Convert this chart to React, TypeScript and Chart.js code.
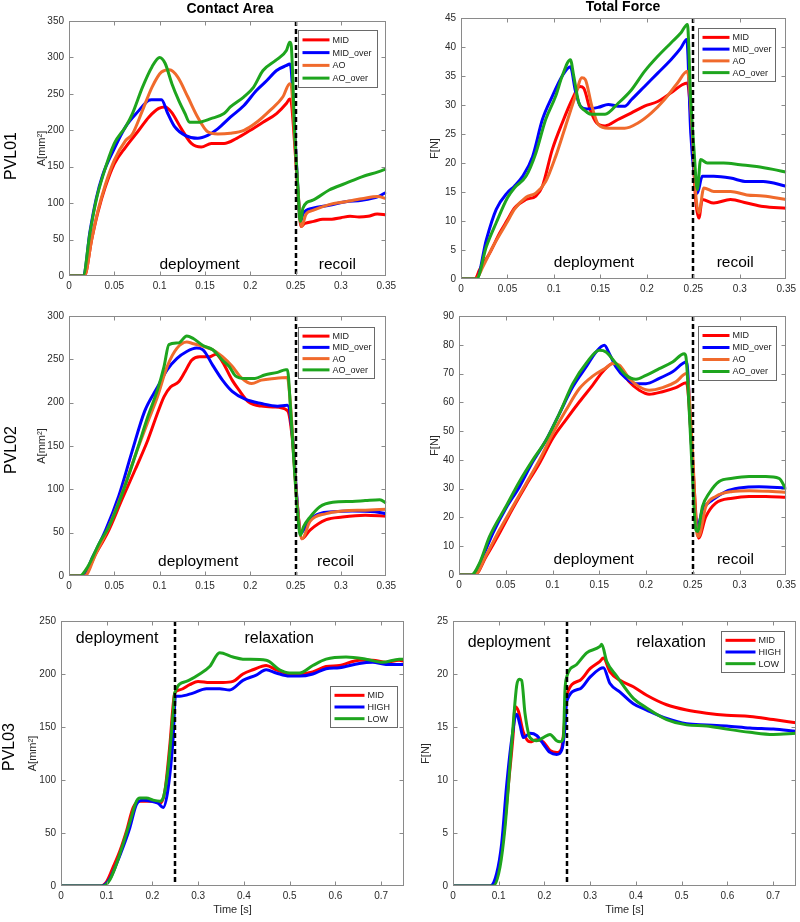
import React, { useEffect, useRef } from "react";
import { Chart, registerables } from "chart.js";

Chart.register(...registerables);

const FONT = '"Liberation Sans", Arial, Helvetica, sans-serif';
const RED = "#ff0000";
const BLUE = "#0000ff";
const ORANGE = "#f06a2c";
const GREEN = "#1ea51e";

const LABELS_4 = ["MID", "MID_over", "AO", "AO_over"];
const LABELS_3 = ["MID", "HIGH", "LOW"];
const SPLIT_T = 0.25;

const X_TICKS_A = [0, 0.05, 0.1, 0.15, 0.2, 0.25, 0.3, 0.35];
const X_TICKS_B = [0, 0.1, 0.2, 0.3, 0.4, 0.5, 0.6, 0.7];
const Y_TICKS_P1 = [0, 50, 100, 150, 200, 250, 300, 350];
const Y_TICKS_P2 = [0, 5, 10, 15, 20, 25, 30, 35, 40, 45];
const Y_TICKS_P3 = [0, 50, 100, 150, 200, 250, 300];
const Y_TICKS_P4 = [0, 10, 20, 30, 40, 50, 60, 70, 80, 90];
const Y_TICKS_P5 = [0, 50, 100, 150, 200, 250];
const Y_TICKS_P6 = [0, 5, 10, 15, 20, 25];

// ---------- PVL01 Contact Area ----------
const P1_MID_T = [0, 0.017, 0.025, 0.032, 0.04, 0.05, 0.0625, 0.077, 0.088, 0.099, 0.106, 0.113, 0.124, 0.135, 0.146, 0.157, 0.171, 0.185, 0.2, 0.214, 0.229, 0.24, 0.2435, 0.245, 0.249, 0.2525, 0.256, 0.26, 0.27, 0.28, 0.29, 0.3, 0.31, 0.32, 0.33, 0.34, 0.35];
const P1_MID_V = [0, 0, 50, 88, 122, 154, 177, 200, 218, 230, 232, 225, 202, 182, 177, 182, 182, 189, 200, 211, 223, 237, 243, 240, 180, 115, 68, 72, 75, 78, 78, 80, 82, 81, 82, 85, 84];
const P1_MIDO_T = [0, 0.016, 0.023, 0.03, 0.037, 0.05, 0.0625, 0.077, 0.0875, 0.091, 0.102, 0.109, 0.1165, 0.128, 0.142, 0.153, 0.164, 0.178, 0.193, 0.207, 0.218, 0.229, 0.24, 0.2435, 0.245, 0.249, 0.2525, 0.2555, 0.258, 0.269, 0.287, 0.305, 0.323, 0.341, 0.35];
const P1_MIDO_V = [0, 0, 60, 106, 138, 175, 205, 227, 241, 242, 242, 223, 205, 193, 189, 193, 202, 218, 234, 255, 268, 282, 289, 291, 285, 200, 120, 75, 85, 93, 97, 102, 104, 109, 115];
const P1_AO_T = [0, 0.017, 0.025, 0.032, 0.04, 0.05, 0.0625, 0.07, 0.081, 0.0915, 0.102, 0.111, 0.12, 0.131, 0.142, 0.153, 0.164, 0.178, 0.193, 0.207, 0.2215, 0.236, 0.2435, 0.245, 0.249, 0.2525, 0.2565, 0.2615, 0.269, 0.287, 0.305, 0.323, 0.341, 0.35];
const P1_AO_V = [0, 0, 50, 90, 125, 159, 186, 195, 227, 259, 280, 283, 273, 246, 218, 198, 195, 196, 200, 211, 227, 246, 264, 262, 190, 120, 68, 85, 90, 98, 102, 106, 109, 106];
const P1_AOO_T = [0, 0.0155, 0.023, 0.03, 0.037, 0.05, 0.0625, 0.07, 0.081, 0.0915, 0.1, 0.106, 0.1135, 0.121, 0.128, 0.133, 0.142, 0.1565, 0.171, 0.178, 0.193, 0.2035, 0.214, 0.228, 0.24, 0.2435, 0.245, 0.249, 0.2525, 0.255, 0.2565, 0.258, 0.269, 0.287, 0.305, 0.323, 0.341, 0.35];
const P1_AOO_V = [0, 0, 58, 104, 136, 182, 205, 223, 259, 287, 300, 292, 264, 241, 223, 211, 211, 216, 223, 232, 246, 259, 282, 296, 310, 321, 318, 195, 122, 75, 80, 93, 104, 118, 127, 136, 143, 147];

// ---------- PVL01 Total Force ----------
const P2_MID_T = [0, 0.015, 0.02, 0.031, 0.0415, 0.05, 0.0574, 0.07, 0.0805, 0.0876, 0.0982, 0.1089, 0.1195, 0.128, 0.132, 0.139, 0.146, 0.155, 0.169, 0.183, 0.1975, 0.2117, 0.226, 0.238, 0.2436, 0.2489, 0.2525, 0.256, 0.2596, 0.272, 0.29, 0.3075, 0.325, 0.35];
const P2_MID_V = [0, 0, 1.6, 4.5, 7.9, 10.2, 12.2, 13.7, 14.3, 16, 22.3, 26.9, 30.9, 33.2, 32.9, 29.2, 26.9, 26.4, 27.5, 28.6, 29.8, 30.6, 32.1, 33.5, 33.8, 24, 13.7, 10.5, 13.7, 13.1, 13.7, 13.1, 12.5, 12.2];
const P2_MIDO_T = [0, 0.0167, 0.0273, 0.0379, 0.05, 0.0574, 0.0663, 0.077, 0.0876, 0.0982, 0.1089, 0.1177, 0.123, 0.1284, 0.1355, 0.1479, 0.1585, 0.1691, 0.1762, 0.1833, 0.1975, 0.2117, 0.2259, 0.2365, 0.2429, 0.2472, 0.2507, 0.2543, 0.2596, 0.272, 0.29, 0.3075, 0.325, 0.35];
const P2_MIDO_V = [0, 0, 6.8, 12, 14.9, 16, 17.7, 21.1, 27.5, 31.5, 35, 36.6, 32.5, 29.8, 29.3, 29.6, 30.1, 29.8, 29.8, 30.9, 33.2, 35.5, 37.8, 39.8, 41.3, 25.2, 18.3, 14.8, 17.7, 17.7, 17.4, 16.8, 16.8, 16];
const P2_AO_T = [0, 0.016, 0.0238, 0.0344, 0.05, 0.0574, 0.07, 0.0805, 0.0911, 0.1018, 0.1124, 0.123, 0.1301, 0.1337, 0.1408, 0.1479, 0.1585, 0.1762, 0.1904, 0.2046, 0.2188, 0.233, 0.2436, 0.2489, 0.2525, 0.256, 0.2613, 0.272, 0.29, 0.3075, 0.325, 0.35];
const P2_AO_V = [0, 0, 2.2, 5.6, 9.9, 12, 14.1, 14.8, 16.8, 21.1, 26.3, 31.5, 34.7, 34.4, 29.8, 26.6, 26, 26, 26.9, 28.6, 30.9, 33.8, 35.8, 25.2, 14.8, 11.4, 15.7, 15.1, 15.1, 14.5, 14.3, 13.7];
const P2_AOO_T = [0, 0.0167, 0.0273, 0.0379, 0.05, 0.0574, 0.0699, 0.0805, 0.0911, 0.1018, 0.1089, 0.1177, 0.1213, 0.1266, 0.1337, 0.1408, 0.155, 0.1691, 0.1833, 0.1975, 0.2117, 0.2259, 0.2365, 0.2436, 0.2472, 0.2507, 0.2543, 0.2578, 0.2649, 0.2826, 0.3004, 0.3181, 0.3358, 0.35];
const P2_AOO_V = [0, 0, 5.6, 9.7, 14, 15.7, 17.7, 21.7, 27.5, 31.5, 35, 37.8, 35, 30.5, 29, 28.4, 28.4, 30.3, 32.6, 35.8, 38.4, 40.7, 42.4, 43.9, 30.9, 22.3, 15.4, 20.6, 20, 20, 19.7, 19.4, 18.9, 18.4];

// ---------- PVL02 Contact Area ----------
const P3_MID_T = [0, 0.0154, 0.0297, 0.044, 0.0583, 0.0727, 0.087, 0.0977, 0.1049, 0.112, 0.121, 0.1281, 0.1353, 0.1442, 0.155, 0.1621, 0.1693, 0.18, 0.1872, 0.1979, 0.2122, 0.2266, 0.2409, 0.2462, 0.2516, 0.257, 0.2659, 0.2838, 0.3017, 0.3268, 0.35];
const P3_MID_V = [0, 0, 26, 53, 88, 122, 157, 188, 207, 218, 224, 236, 249, 253, 253, 256, 247, 226, 215, 201, 196, 195, 191, 160, 85, 43, 53, 65, 68, 70, 69];
const P3_MIDO_T = [0, 0.0154, 0.0261, 0.0404, 0.0548, 0.0691, 0.0834, 0.0977, 0.1084, 0.1192, 0.1299, 0.1407, 0.1478, 0.1586, 0.1693, 0.18, 0.1943, 0.2122, 0.2301, 0.2409, 0.2462, 0.2516, 0.2552, 0.2588, 0.2659, 0.2767, 0.291, 0.3125, 0.3375, 0.35];
const P3_MIDO_V = [0, 0, 22, 53, 92, 142, 190, 218, 238, 251, 259, 263, 261, 243, 226, 213, 204, 199, 196, 197, 165, 88, 49, 53, 65, 72, 74, 75, 74, 72];
const P3_AO_T = [0, 0.0172, 0.0297, 0.044, 0.0583, 0.0727, 0.087, 0.0977, 0.1084, 0.1192, 0.1299, 0.1371, 0.1478, 0.1586, 0.1693, 0.18, 0.1908, 0.2015, 0.2122, 0.2266, 0.2409, 0.2445, 0.248, 0.2516, 0.257, 0.2659, 0.2838, 0.3017, 0.3268, 0.35];
const P3_AO_V = [0, 0, 26, 57, 95, 138, 178, 207, 242, 263, 270, 268, 265, 261, 253, 242, 228, 222, 226, 228, 229, 195, 140, 85, 43, 63, 72, 75, 76, 77];
const P3_AOO_T = [0, 0.0118, 0.0208, 0.0333, 0.044, 0.0548, 0.0655, 0.0762, 0.087, 0.0977, 0.1049, 0.1102, 0.121, 0.1299, 0.1371, 0.1478, 0.1586, 0.1693, 0.1765, 0.1836, 0.1943, 0.2051, 0.2158, 0.2301, 0.2391, 0.2409, 0.2445, 0.248, 0.2516, 0.2552, 0.2588, 0.2659, 0.2767, 0.291, 0.3125, 0.3268, 0.3429, 0.35];
const P3_AOO_V = [0, 0, 10.8, 37.7, 57, 84, 115, 149, 184, 215, 242, 267, 269, 277, 274, 266, 261, 249, 242, 231, 228, 228, 232, 235, 238, 238, 192, 134, 80, 47, 57, 68, 80, 85, 86, 87, 88, 84];

// ---------- PVL02 Total Force ----------
const P4_MID_T = [0, 0.0167, 0.0292, 0.0434, 0.0576, 0.0719, 0.0861, 0.1003, 0.1145, 0.1288, 0.143, 0.1537, 0.1644, 0.1715, 0.1821, 0.1928, 0.2035, 0.2177, 0.2319, 0.2433, 0.2497, 0.2561, 0.264, 0.2746, 0.2924, 0.3102, 0.328, 0.35];
const P4_MID_V = [0, 0, 6.5, 14.6, 23.2, 31.3, 38.8, 47.5, 54, 60.2, 66, 70.6, 73.5, 72.3, 67.1, 64.2, 62.8, 63.7, 65.1, 66.8, 40, 12.8, 20.3, 25, 26.7, 27.3, 27.3, 27];
const P4_MIDO_T = [0, 0.0149, 0.0256, 0.0363, 0.0502, 0.0647, 0.079, 0.0932, 0.1074, 0.1217, 0.1359, 0.1466, 0.1555, 0.1608, 0.1679, 0.1786, 0.1893, 0.1999, 0.2142, 0.2284, 0.2433, 0.248, 0.2515, 0.2551, 0.2604, 0.2711, 0.2853, 0.2995, 0.3209, 0.35];
const P4_MIDO_V = [0, 0, 6.5, 14.6, 23.2, 30.7, 39.4, 46.9, 56.1, 65.4, 72.3, 77.5, 79.8, 76.9, 72.3, 68.3, 66.5, 66.5, 68.3, 70.6, 74, 49.2, 26.1, 16.9, 22.6, 26.1, 29, 30.2, 30.7, 30.2];
const P4_AO_T = [0, 0.0167, 0.0292, 0.0434, 0.0576, 0.0719, 0.0861, 0.1003, 0.1145, 0.1288, 0.143, 0.1572, 0.1644, 0.1715, 0.1821, 0.1928, 0.2035, 0.2177, 0.2319, 0.2433, 0.2497, 0.254, 0.2561, 0.264, 0.2746, 0.2924, 0.3102, 0.3351, 0.35];
const P4_AO_V = [0, 0, 7, 15.7, 23.8, 31.9, 40, 49.2, 57.3, 64.8, 69.1, 72, 73.5, 72.9, 68.3, 65.4, 64.2, 65.1, 67.1, 70, 43.4, 15.7, 13.4, 23.8, 27.3, 29, 29.3, 29, 28.7];
const P4_AOO_T = [0, 0.0132, 0.0221, 0.0327, 0.0502, 0.0647, 0.079, 0.0932, 0.1074, 0.1217, 0.1359, 0.1501, 0.1572, 0.1679, 0.1786, 0.1893, 0.1999, 0.2142, 0.2284, 0.2408, 0.2426, 0.2462, 0.2497, 0.2533, 0.2551, 0.2604, 0.2675, 0.2782, 0.2924, 0.3102, 0.328, 0.3422, 0.35];
const P4_AOO_V = [0, 0, 4.2, 13.4, 23.8, 32.5, 40, 46.9, 56.1, 66.5, 73.5, 78.1, 77.5, 73.5, 69.4, 68, 69.4, 71.7, 74, 76.9, 76, 57.3, 34.2, 15.7, 15.1, 23.8, 28.4, 32.5, 33.6, 34.2, 34.2, 33.6, 29.6];

// ---------- PVL03 Contact Area ----------
const P5_MID_T = [0, 0.0851, 0.0996, 0.1142, 0.1287, 0.1433, 0.1578, 0.1724, 0.1869, 0.2015, 0.216, 0.2269, 0.2378, 0.2487, 0.2596, 0.2815, 0.2996, 0.3251, 0.3542, 0.376, 0.3978, 0.4196, 0.4487, 0.4705, 0.4996, 0.5215, 0.5505, 0.5796, 0.6087, 0.6524, 0.6815, 0.7105, 0.7396, 0.75];
const P5_MID_V = [0, 0, 4, 18, 33, 52, 74, 80, 80, 80, 78, 89, 132, 182, 185, 190, 193, 192, 192, 193, 200, 204, 208, 204, 200, 200, 202, 207, 208, 213, 213, 211, 213, 212];
const P5_HIGH_T = [0, 0.0887, 0.1069, 0.1215, 0.136, 0.1505, 0.1651, 0.1796, 0.1978, 0.2124, 0.2233, 0.2342, 0.2451, 0.2502, 0.2596, 0.2887, 0.3178, 0.3469, 0.3687, 0.3978, 0.4269, 0.4487, 0.4705, 0.4996, 0.5215, 0.5505, 0.5796, 0.6087, 0.6524, 0.6815, 0.7105, 0.75];
const P5_HIGH_V = [0, 0, 7, 21, 37, 55, 77, 81, 80, 78, 74, 92, 139, 179, 179, 182, 186, 186, 185, 194, 199, 204, 201, 198, 198, 200, 205, 206, 210, 211, 209, 209];
const P5_LOW_T = [0, 0.0924, 0.1069, 0.1215, 0.136, 0.1505, 0.1651, 0.1724, 0.1869, 0.2015, 0.216, 0.2233, 0.2342, 0.2451, 0.2487, 0.2742, 0.3033, 0.3251, 0.3469, 0.376, 0.3978, 0.4487, 0.4778, 0.4996, 0.5215, 0.5505, 0.5796, 0.6233, 0.6669, 0.7033, 0.7396, 0.75];
const P5_LOW_V = [0, 0, 6, 21, 40, 60, 80, 83, 83, 81, 80, 83, 111, 163, 182, 193, 200, 207, 220, 216, 214, 213, 204, 201, 201, 208, 214, 216, 214, 211, 214, 214];

// ---------- PVL03 Total Force ----------
const P6_MID_T = [0, 0.0845, 0.0991, 0.1101, 0.121, 0.1319, 0.1356, 0.1429, 0.1538, 0.1684, 0.1829, 0.1975, 0.2121, 0.2267, 0.2376, 0.2449, 0.2485, 0.2777, 0.2996, 0.3214, 0.3287, 0.3433, 0.3652, 0.3943, 0.4235, 0.4672, 0.5109, 0.5547, 0.5984, 0.6494, 0.7004, 0.75];
const P6_MID_V = [0, 0, 1.5, 4.6, 9.5, 14.5, 16.9, 16.5, 14.5, 13.6, 13.8, 13.6, 12.8, 12.6, 13, 16, 18, 19.4, 20.5, 21.2, 21.5, 20.2, 19.4, 18.8, 18, 17.1, 16.6, 16.3, 16.1, 16, 15.7, 15.4];
const P6_HIGH_T = [0, 0.0809, 0.0955, 0.1064, 0.1173, 0.1283, 0.1392, 0.1465, 0.1538, 0.1684, 0.1829, 0.1975, 0.2121, 0.2267, 0.2376, 0.2449, 0.2485, 0.2777, 0.2996, 0.3214, 0.3287, 0.3433, 0.3652, 0.3943, 0.4235, 0.4672, 0.5109, 0.5547, 0.5984, 0.6494, 0.7004, 0.75];
const P6_HIGH_V = [0, 0, 1.2, 4, 9.5, 13.8, 16.2, 15.2, 14, 14.4, 14.2, 13.4, 12.6, 12.4, 12.8, 15, 17.4, 18.6, 19.7, 20.5, 20.6, 19.1, 18.3, 17.2, 16.6, 15.8, 15.3, 15.2, 15.1, 14.9, 14.8, 14.6];
const P6_LOW_T = [0, 0.0882, 0.1028, 0.1137, 0.1246, 0.1319, 0.1392, 0.145, 0.1501, 0.1574, 0.1684, 0.1829, 0.1975, 0.2121, 0.2267, 0.234, 0.2413, 0.2449, 0.2485, 0.2704, 0.2923, 0.3214, 0.3251, 0.336, 0.3579, 0.3943, 0.4235, 0.4672, 0.5109, 0.5547, 0.5984, 0.6494, 0.7004, 0.75];
const P6_LOW_V = [0, 0, 1.8, 5.5, 11.4, 15.4, 18.9, 19.5, 19.4, 16.3, 14, 13.7, 14, 14.3, 13.7, 13.6, 14, 18.5, 19.7, 20.9, 22, 22.6, 22.8, 21.2, 19.8, 17.7, 16.8, 15.7, 15.2, 15.1, 14.8, 14.5, 14.3, 14.4];

type Series = { label: string; color: string; t: number[]; v: number[] };
type Region = { text: string; t: number; v: number };
type PanelCfg = {
  box: { x: number; y: number; w: number; h: number };
  yW: number; xH: number; padTop: number; padRight: number;
  xMax: number; xTicks: number[]; yMax: number; yTicks: number[];
  yTitle: string; yTitlePad: number;
  xTitle?: string; xTitlePad?: number;
  series: Series[];
  regions: Region[]; regionFont: number;
  legend: { right: number; top: number; w: number; h: number; lineLen: number };
  colTitle?: { text: string; x: number; y: number };
  rowLabel?: { text: string; x: number; y: number };
};

const four = (m: [number[], number[]], mo: [number[], number[]], a: [number[], number[]], ao: [number[], number[]]): Series[] => [
  { label: LABELS_4[0], color: RED, t: m[0], v: m[1] },
  { label: LABELS_4[1], color: BLUE, t: mo[0], v: mo[1] },
  { label: LABELS_4[2], color: ORANGE, t: a[0], v: a[1] },
  { label: LABELS_4[3], color: GREEN, t: ao[0], v: ao[1] },
];
const three = (m: [number[], number[]], h: [number[], number[]], l: [number[], number[]]): Series[] => [
  { label: LABELS_3[0], color: RED, t: m[0], v: m[1] },
  { label: LABELS_3[1], color: BLUE, t: h[0], v: h[1] },
  { label: LABELS_3[2], color: GREEN, t: l[0], v: l[1] },
];

const A_TITLE = "A[mm\u00B2]";
const F_TITLE = "F[N]";

const PANELS: PanelCfg[] = [
  {
    box: { x: 0, y: 0, w: 400, h: 300 }, yW: 69, xH: 24, padTop: 21, padRight: 8,
    xMax: 0.35, xTicks: X_TICKS_A, yMax: 350, yTicks: Y_TICKS_P1,
    yTitle: A_TITLE, yTitlePad: 35.4,
    series: four([P1_MID_T, P1_MID_V], [P1_MIDO_T, P1_MIDO_V], [P1_AO_T, P1_AO_V], [P1_AOO_T, P1_AOO_V]),
    regions: [{ text: "deployment", t: 0.144, v: 15 }, { text: "recoil", t: 0.296, v: 15 }], regionFont: 15.5,
    legend: { right: 9, top: 9, w: 79, h: 57, lineLen: 27 },
    colTitle: { text: "Contact Area", x: 230, y: 9.5 },
    rowLabel: { text: "PVL01", x: 12, y: 156 },
  },
  {
    box: { x: 400, y: 0, w: 400, h: 300 }, yW: 61, xH: 21, padTop: 18, padRight: 10,
    xMax: 0.35, xTicks: X_TICKS_A, yMax: 45, yTicks: Y_TICKS_P2,
    yTitle: F_TITLE, yTitlePad: 28.4,
    series: four([P2_MID_T, P2_MID_V], [P2_MIDO_T, P2_MIDO_V], [P2_AO_T, P2_AO_V], [P2_AOO_T, P2_AOO_V]),
    regions: [{ text: "deployment", t: 0.143, v: 2.8 }, { text: "recoil", t: 0.295, v: 2.8 }], regionFont: 15.5,
    legend: { right: 11, top: 10, w: 77, h: 53, lineLen: 27 },
    colTitle: { text: "Total Force", x: 223, y: 7.5 },
  },
  {
    box: { x: 0, y: 300, w: 400, h: 310 }, yW: 69, xH: 34, padTop: 16, padRight: 5,
    xMax: 0.35, xTicks: X_TICKS_A, yMax: 300, yTicks: Y_TICKS_P3,
    yTitle: A_TITLE, yTitlePad: 35.4,
    series: four([P3_MID_T, P3_MID_V], [P3_MIDO_T, P3_MIDO_V], [P3_AO_T, P3_AO_V], [P3_AOO_T, P3_AOO_V]),
    regions: [{ text: "deployment", t: 0.1425, v: 16 }, { text: "recoil", t: 0.294, v: 16 }], regionFont: 15.5,
    legend: { right: 12, top: 11, w: 76, h: 51, lineLen: 27 },
    rowLabel: { text: "PVL02", x: 12, y: 150 },
  },
  {
    box: { x: 400, y: 300, w: 400, h: 310 }, yW: 59, xH: 35, padTop: 16, padRight: 13,
    xMax: 0.35, xTicks: X_TICKS_A, yMax: 90, yTicks: Y_TICKS_P4,
    yTitle: F_TITLE, yTitlePad: 28.4,
    series: four([P4_MID_T, P4_MID_V], [P4_MIDO_T, P4_MIDO_V], [P4_AO_T, P4_AO_V], [P4_AOO_T, P4_AOO_V]),
    regions: [{ text: "deployment", t: 0.144, v: 5.2 }, { text: "recoil", t: 0.2956, v: 5.2 }], regionFont: 15.5,
    legend: { right: 10, top: 10, w: 78, h: 54, lineLen: 27 },
  },
  {
    box: { x: 0, y: 610, w: 410, h: 312 }, yW: 61, xH: 36, padTop: 7, padRight: 6,
    xMax: 0.75, xTicks: X_TICKS_B, yMax: 250, yTicks: Y_TICKS_P5,
    yTitle: A_TITLE, yTitlePad: 26.4, xTitle: "Time [s]", xTitlePad: 5.5,
    series: three([P5_MID_T, P5_MID_V], [P5_HIGH_T, P5_HIGH_V], [P5_LOW_T, P5_LOW_V]),
    regions: [{ text: "deployment", t: 0.1225, v: 233 }, { text: "relaxation", t: 0.477, v: 233 }], regionFont: 16,
    legend: { right: 7, top: 65, w: 67, h: 41, lineLen: 30 },
    rowLabel: { text: "PVL03", x: 10, y: 137 },
  },
  {
    box: { x: 410, y: 610, w: 390, h: 312 }, yW: 43, xH: 36, padTop: 6, padRight: 4,
    xMax: 0.75, xTicks: X_TICKS_B, yMax: 25, yTicks: Y_TICKS_P6,
    yTitle: F_TITLE, yTitlePad: 9.4, xTitle: "Time [s]", xTitlePad: 5.5,
    series: three([P6_MID_T, P6_MID_V], [P6_HIGH_T, P6_HIGH_V], [P6_LOW_T, P6_LOW_V]),
    regions: [{ text: "deployment", t: 0.1225, v: 23 }, { text: "relaxation", t: 0.477, v: 23 }], regionFont: 16,
    legend: { right: 12, top: 10, w: 63, h: 41, lineLen: 30 },
  },
];

const fmt = (v: number) => String(Number(Number(v).toFixed(3)));

function makeDeco(cfg: PanelCfg) {
  return {
    id: "panelDeco",
    afterDatasetsDraw(chart: any) {
      const { ctx, chartArea: a, scales } = chart;
      const xs = scales.x;
      const ys = scales.y;
      ctx.save();

      // region labels
      ctx.fillStyle = "#000";
      ctx.font = `${cfg.regionFont}px ${FONT}`;
      ctx.textAlign = "center";
      ctx.textBaseline = "middle";
      cfg.regions.forEach((r) => {
        ctx.fillText(r.text, xs.getPixelForValue(r.t), ys.getPixelForValue(r.v));
      });

      // dashed split line
      const sx = Math.round(xs.getPixelForValue(SPLIT_T));
      ctx.strokeStyle = "#000";
      ctx.lineWidth = 2.5;
      ctx.setLineDash([5, 3]);
      ctx.beginPath();
      ctx.moveTo(sx, a.top);
      ctx.lineTo(sx, a.bottom);
      ctx.stroke();
      ctx.setLineDash([]);

      // box
      const L = Math.round(a.left) + 0.5;
      const T = Math.round(a.top) + 0.5;
      const R = Math.round(a.right) - 0.5;
      const B = Math.round(a.bottom) - 0.5;
      ctx.strokeStyle = "#8a8a8a";
      ctx.lineWidth = 1;
      ctx.strokeRect(L, T, R - L, B - T);
      // inward ticks
      ctx.beginPath();
      xs.ticks.forEach((tk: any) => {
        const px = Math.round(xs.getPixelForValue(tk.value)) + 0.5;
        if (px <= L + 1 || px >= R - 1) return;
        ctx.moveTo(px, B); ctx.lineTo(px, B - 4);
        ctx.moveTo(px, T); ctx.lineTo(px, T + 4);
      });
      ys.ticks.forEach((tk: any) => {
        const py = Math.round(ys.getPixelForValue(tk.value)) + 0.5;
        if (py <= T + 1 || py >= B - 1) return;
        ctx.moveTo(L, py); ctx.lineTo(L + 4, py);
        ctx.moveTo(R, py); ctx.lineTo(R - 4, py);
      });
      ctx.stroke();

      // legend
      const lg = cfg.legend;
      const bx = Math.round(a.right - lg.right - lg.w) + 0.5;
      const by = Math.round(a.top + lg.top) + 0.5;
      ctx.fillStyle = "#fff";
      ctx.fillRect(bx, by, lg.w, lg.h);
      ctx.strokeStyle = "#6a6a6a";
      ctx.lineWidth = 1;
      ctx.strokeRect(bx, by, lg.w, lg.h);
      const ds = chart.data.datasets;
      const rowH = (lg.h - 6) / ds.length;
      ctx.font = `9px ${FONT}`;
      ctx.textAlign = "left";
      ctx.textBaseline = "middle";
      ds.forEach((d: any, i: number) => {
        const cy = by + 3 + rowH * (i + 0.5);
        ctx.strokeStyle = d.borderColor;
        ctx.lineWidth = 3;
        ctx.beginPath();
        ctx.moveTo(bx + 4, cy);
        ctx.lineTo(bx + 4 + lg.lineLen, cy);
        ctx.stroke();
        ctx.fillStyle = "#1a1a1a";
        ctx.fillText(d.label, bx + 4 + lg.lineLen + 3, cy + 0.5);
      });

      // column title
      if (cfg.colTitle) {
        ctx.fillStyle = "#000";
        ctx.font = `bold 14px ${FONT}`;
        ctx.textAlign = "center";
        ctx.textBaseline = "middle";
        ctx.fillText(cfg.colTitle.text, cfg.colTitle.x, cfg.colTitle.y);
      }
      // row label
      if (cfg.rowLabel) {
        ctx.save();
        ctx.translate(cfg.rowLabel.x, cfg.rowLabel.y);
        ctx.rotate(-Math.PI / 2);
        ctx.fillStyle = "#000";
        ctx.font = `16px ${FONT}`;
        ctx.textAlign = "center";
        ctx.textBaseline = "middle";
        ctx.fillText(cfg.rowLabel.text, 0, 0);
        ctx.restore();
      }
      ctx.restore();
    },
  };
}

function Panel({ cfg }: { cfg: PanelCfg }) {
  const ref = useRef<HTMLCanvasElement>(null);
  useEffect(() => {
    const n = cfg.series.length;
    const chart = new Chart(ref.current as HTMLCanvasElement, {
      type: "line",
      data: {
        datasets: cfg.series.map((s, i) => ({
          label: s.label,
          data: s.t.map((t, j) => ({ x: t, y: s.v[j] })),
          borderColor: s.color,
          backgroundColor: s.color,
          borderWidth: 3,
          pointRadius: 0,
          fill: false,
          cubicInterpolationMode: "monotone",
          order: n - i,
        })),
      } as any,
      options: {
        responsive: false,
        animation: false,
        devicePixelRatio: 1,
        layout: { padding: { left: 0, top: cfg.padTop, right: cfg.padRight, bottom: 0 } },
        plugins: { legend: { display: false }, tooltip: { enabled: false }, title: { display: false } },
        scales: {
          x: {
            type: "linear",
            min: 0,
            max: cfg.xMax,
            afterBuildTicks: (s: any) => { s.ticks = cfg.xTicks.map((v) => ({ value: v })); },
            afterFit: (s: any) => { s.height = cfg.xH; },
            grid: { display: false, drawTicks: false },
            border: { display: false },
            ticks: {
              padding: 4,
              color: "#2a2a2a",
              font: { size: 10, family: FONT },
              maxRotation: 0,
              autoSkip: false,
              callback: (v: any) => fmt(v),
            },
            title: {
              display: !!cfg.xTitle,
              text: cfg.xTitle || "",
              color: "#2a2a2a",
              font: { size: 11, family: FONT },
              padding: { top: 0, bottom: cfg.xTitlePad || 0 },
            },
          },
          y: {
            type: "linear",
            min: 0,
            max: cfg.yMax,
            afterBuildTicks: (s: any) => { s.ticks = cfg.yTicks.map((v) => ({ value: v })); },
            afterFit: (s: any) => { s.width = cfg.yW; },
            grid: { display: false, drawTicks: false },
            border: { display: false },
            ticks: {
              padding: 5,
              color: "#2a2a2a",
              font: { size: 10, family: FONT },
              autoSkip: false,
              callback: (v: any) => fmt(v),
            },
            title: {
              display: true,
              text: cfg.yTitle,
              color: "#2a2a2a",
              font: { size: 11, family: FONT },
              padding: { top: cfg.yTitlePad, bottom: 0 },
            },
          },
        },
      } as any,
      plugins: [makeDeco(cfg)],
    });
    return () => chart.destroy();
  }, [cfg]);
  return (
    <canvas
      ref={ref}
      width={cfg.box.w}
      height={cfg.box.h}
      style={{ position: "absolute", left: cfg.box.x, top: cfg.box.y, width: cfg.box.w, height: cfg.box.h }}
    />
  );
}

export default function App() {
  return (
    <div style={{ position: "absolute", left: 0, top: 0, width: 800, height: 922, background: "#fff", overflow: "hidden" }}>
      {PANELS.map((p, i) => (
        <Panel key={i} cfg={p} />
      ))}
    </div>
  );
}
